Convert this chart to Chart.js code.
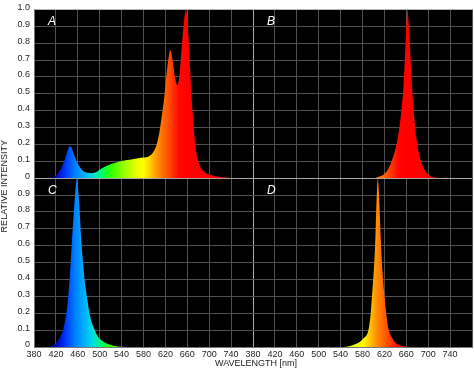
<!DOCTYPE html>
<html>
<head>
<meta charset="utf-8">
<script src="https://cdn.jsdelivr.net/npm/chart.js@4.4.1/dist/chart.umd.min.js"></script>
<style>
  html, body { margin: 0; padding: 0; background: #fff; }
  #wrap { width: 474px; height: 374px; }
</style>
</head>
<body>
<div id="wrap"><canvas id="chart" width="474" height="374"></canvas></div>
<script>
// spectra (wavelength in nm, relative intensity)
var wavelengthA = [380, 410, 418, 424, 430, 435, 440, 445, 448, 452, 456, 460, 465, 470, 478, 486, 494, 502, 510, 520, 530, 540, 550, 560, 570, 580, 590, 598, 604, 609, 613, 618, 624, 629, 633, 637, 642, 646, 650, 654, 657.5, 661, 665, 670, 675, 681, 690, 700, 712, 730, 750, 780];
var intensityA = [0, 0, 0.01, 0.03, 0.06, 0.1, 0.15, 0.19, 0.185, 0.15, 0.115, 0.085, 0.06, 0.043, 0.032, 0.03, 0.037, 0.055, 0.07, 0.083, 0.093, 0.102, 0.108, 0.113, 0.118, 0.122, 0.13, 0.155, 0.2, 0.27, 0.36, 0.48, 0.67, 0.76, 0.7, 0.61, 0.55, 0.62, 0.78, 0.93, 1.0, 0.9, 0.65, 0.38, 0.19, 0.09, 0.04, 0.022, 0.012, 0.004, 0, 0];

var wavelengthB = [380, 600, 610, 620, 628, 633, 640, 646, 651, 655, 658, 660.5, 662, 664, 667, 671, 675, 680, 687, 694, 702, 712, 725, 780];
var intensityB = [0, 0, 0.008, 0.025, 0.06, 0.1, 0.17, 0.27, 0.4, 0.55, 0.75, 0.93, 1.0, 0.94, 0.75, 0.52, 0.34, 0.2, 0.1, 0.045, 0.015, 0.004, 0, 0];

var wavelengthC = [380, 405, 415, 422, 428, 433, 438, 442, 445, 448, 451, 454, 456.5, 458.5, 461, 463.5, 466, 469, 473, 477, 482, 487, 491, 497, 505, 513, 525, 540, 555, 780];
var intensityC = [0, 0, 0.01, 0.03, 0.06, 0.1, 0.18, 0.28, 0.4, 0.56, 0.72, 0.86, 0.96, 1.0, 0.92, 0.8, 0.65, 0.52, 0.38, 0.29, 0.19, 0.13, 0.1, 0.06, 0.035, 0.02, 0.008, 0.002, 0, 0];

var wavelengthD = [380, 545, 555, 565, 575, 583, 589, 592, 595, 598, 601, 603, 605, 606.5, 608, 609.5, 611.5, 613.5, 615.5, 618, 621, 624, 628, 634, 642, 652, 665, 780];
var intensityD = [0, 0, 0.005, 0.015, 0.03, 0.055, 0.08, 0.12, 0.2, 0.33, 0.47, 0.6, 0.8, 0.93, 1.0, 0.94, 0.8, 0.63, 0.5, 0.38, 0.27, 0.18, 0.1, 0.055, 0.02, 0.006, 0, 0];

var panelNames = ['A', 'B', 'C', 'D'];
var xTicksMin = 380, xTicksMax = 780, xTickStep = 40;
var yTickStep = 0.1;
var xTitle = 'WAVELENGTH [nm]';
var yTitle = 'RELATIVE INTENSITY';

// colour of the light at each wavelength, used for the fill gradient
var spectrumStops = [
  [380, '#000066'], [410, '#0000aa'], [425, '#0010d0'], [440, '#0040ff'],
  [455, '#0080ff'], [470, '#00aaff'], [485, '#00d8e8'], [497, '#00f0a0'],
  [507, '#00ff50'], [520, '#30ff00'], [545, '#99ff00'], [565, '#e0ff00'],
  [580, '#ffff00'], [592, '#ffcc00'], [603, '#ff9900'], [615, '#ff7000'],
  [630, '#ff4000'], [645, '#ff0800'], [660, '#ff0000'], [780, '#ff0000']
];

function toPoints(wl, values) {
  return wl.map(function(w, i) { return {x: w, y: values[i]}; });
}

function spectrumFill(context) {
  var chart = context.chart,
    ds = chart.data.datasets[context.datasetIndex],
    xScale = chart.scales[ds.xAxisID];

  if (!chart.chartArea || !xScale) {
    return 'rgba(0,0,0,0)';
  }
  var x0 = xScale.getPixelForValue(xTicksMin),
    x1 = xScale.getPixelForValue(xTicksMax),
    g = chart.ctx.createLinearGradient(x0, 0, x1, 0);

  spectrumStops.forEach(function(s) {
    g.addColorStop((s[0] - xTicksMin) / (xTicksMax - xTicksMin), s[1]);
  });
  return g;
}

function spectrum(wl, values, xId, yId) {
  return {
    data: toPoints(wl, values),
    xAxisID: xId,
    yAxisID: yId,
    fill: 'origin',
    backgroundColor: spectrumFill,
    borderWidth: 0,
    borderColor: 'rgba(0,0,0,0)',
    pointRadius: 0,
    cubicInterpolationMode: 'monotone'
  };
}

var tickFont = {family: '"Liberation Sans", Arial, sans-serif', size: 9};
var tickColour = '#262626';

function xScale(weight) {
  return {
    type: 'linear',
    position: 'bottom',
    stack: 'wavelength',
    weight: weight,
    min: xTicksMin,
    max: xTicksMax,
    afterFit: function(scale) { scale.height = 27; },
    grid: {
      drawTicks: false,
      color: function(ctx) {
        var v = ctx.tick && ctx.tick.value;
        if ((weight === 0 && v === xTicksMax) || (weight === 1 && v === xTicksMin)) {
          return '#a8a8a8';
        }
        return '#515151';
      }
    },
    border: {color: '#777'},
    ticks: {
      stepSize: xTickStep,
      autoSkip: false,
      maxRotation: 0,
      padding: 2,
      font: tickFont,
      color: tickColour,
      callback: function(v) { return v === xTicksMax ? '' : v; }
    }
  };
}

function yScale(weight) {
  return {
    type: 'linear',
    position: 'left',
    stack: 'intensity',
    weight: weight,
    min: 0,
    max: 1,
    afterFit: function(scale) { scale.width = 34; },
    grid: {
      drawTicks: false,
      color: function(ctx) {
        var v = ctx.tick && ctx.tick.value;
        if (weight === 1 && Math.abs(v - 1) < 1e-6) { return '#b8b8b8'; }
        if ((weight === 1 && v === 0) || (weight === 0 && Math.abs(v - 1) < 1e-6)) {
          return '#a8a8a8';
        }
        return '#515151';
      }
    },
    border: {color: '#777'},
    ticks: {
      stepSize: yTickStep,
      autoSkip: false,
      padding: 4,
      labelOffset: -2,
      font: tickFont,
      color: tickColour,
      callback: function(v) {
        if (weight === 0 && Math.abs(v - 1) < 1e-6) { return ''; }
        return v === 0 ? '0' : v.toFixed(1);
      }
    }
  };
}

var spectrumFrame = {
  id: 'spectrumFrame',
  beforeDraw: function(chart) {
    var a = chart.chartArea, ctx = chart.ctx;
    ctx.save();
    ctx.fillStyle = '#000';
    ctx.fillRect(a.left, a.top, a.right - a.left, a.bottom - a.top);
    ctx.restore();
  },
  afterDraw: function(chart) {
    var ctx = chart.ctx, s = chart.scales, a = chart.chartArea;
    var panels = [[s.xL, s.yT], [s.xR, s.yT], [s.xL, s.yB], [s.xR, s.yB]];

    ctx.save();
    ctx.fillStyle = '#fff';
    ctx.font = 'italic 12px "Liberation Sans", Arial, sans-serif';
    ctx.textAlign = 'left';
    ctx.textBaseline = 'alphabetic';
    panels.forEach(function(p, i) {
      ctx.fillText(panelNames[i], p[0].left + 14, p[1].top + 16);
    });

    ctx.fillStyle = '#222';
    ctx.font = '9px "Liberation Sans", Arial, sans-serif';
    ctx.textAlign = 'center';
    ctx.textBaseline = 'middle';
    ctx.fillText(xTitle, (a.left + a.right) / 2 + 3, a.bottom + 16.5);
    ctx.translate(5, (a.top + a.bottom) / 2 + 8);
    ctx.rotate(-Math.PI / 2);
    ctx.fillText(yTitle, 0, 0);
    ctx.restore();
  }
};

new Chart(document.getElementById('chart').getContext('2d'), {
  type: 'line',
  data: {
    datasets: [
      spectrum(wavelengthA, intensityA, 'xL', 'yT'),
      spectrum(wavelengthB, intensityB, 'xR', 'yT'),
      spectrum(wavelengthC, intensityC, 'xL', 'yB'),
      spectrum(wavelengthD, intensityD, 'xR', 'yB')
    ]
  },
  options: {
    responsive: false,
    animation: false,
    layout: {padding: {top: 7, right: 0, bottom: 0, left: 0}},
    plugins: {legend: {display: false}, tooltip: {enabled: false}},
    scales: {
      xL: xScale(0),
      xR: xScale(1),
      yT: yScale(1),
      yB: yScale(0)
    }
  },
  plugins: [spectrumFrame]
});
</script>
</body>
</html>
